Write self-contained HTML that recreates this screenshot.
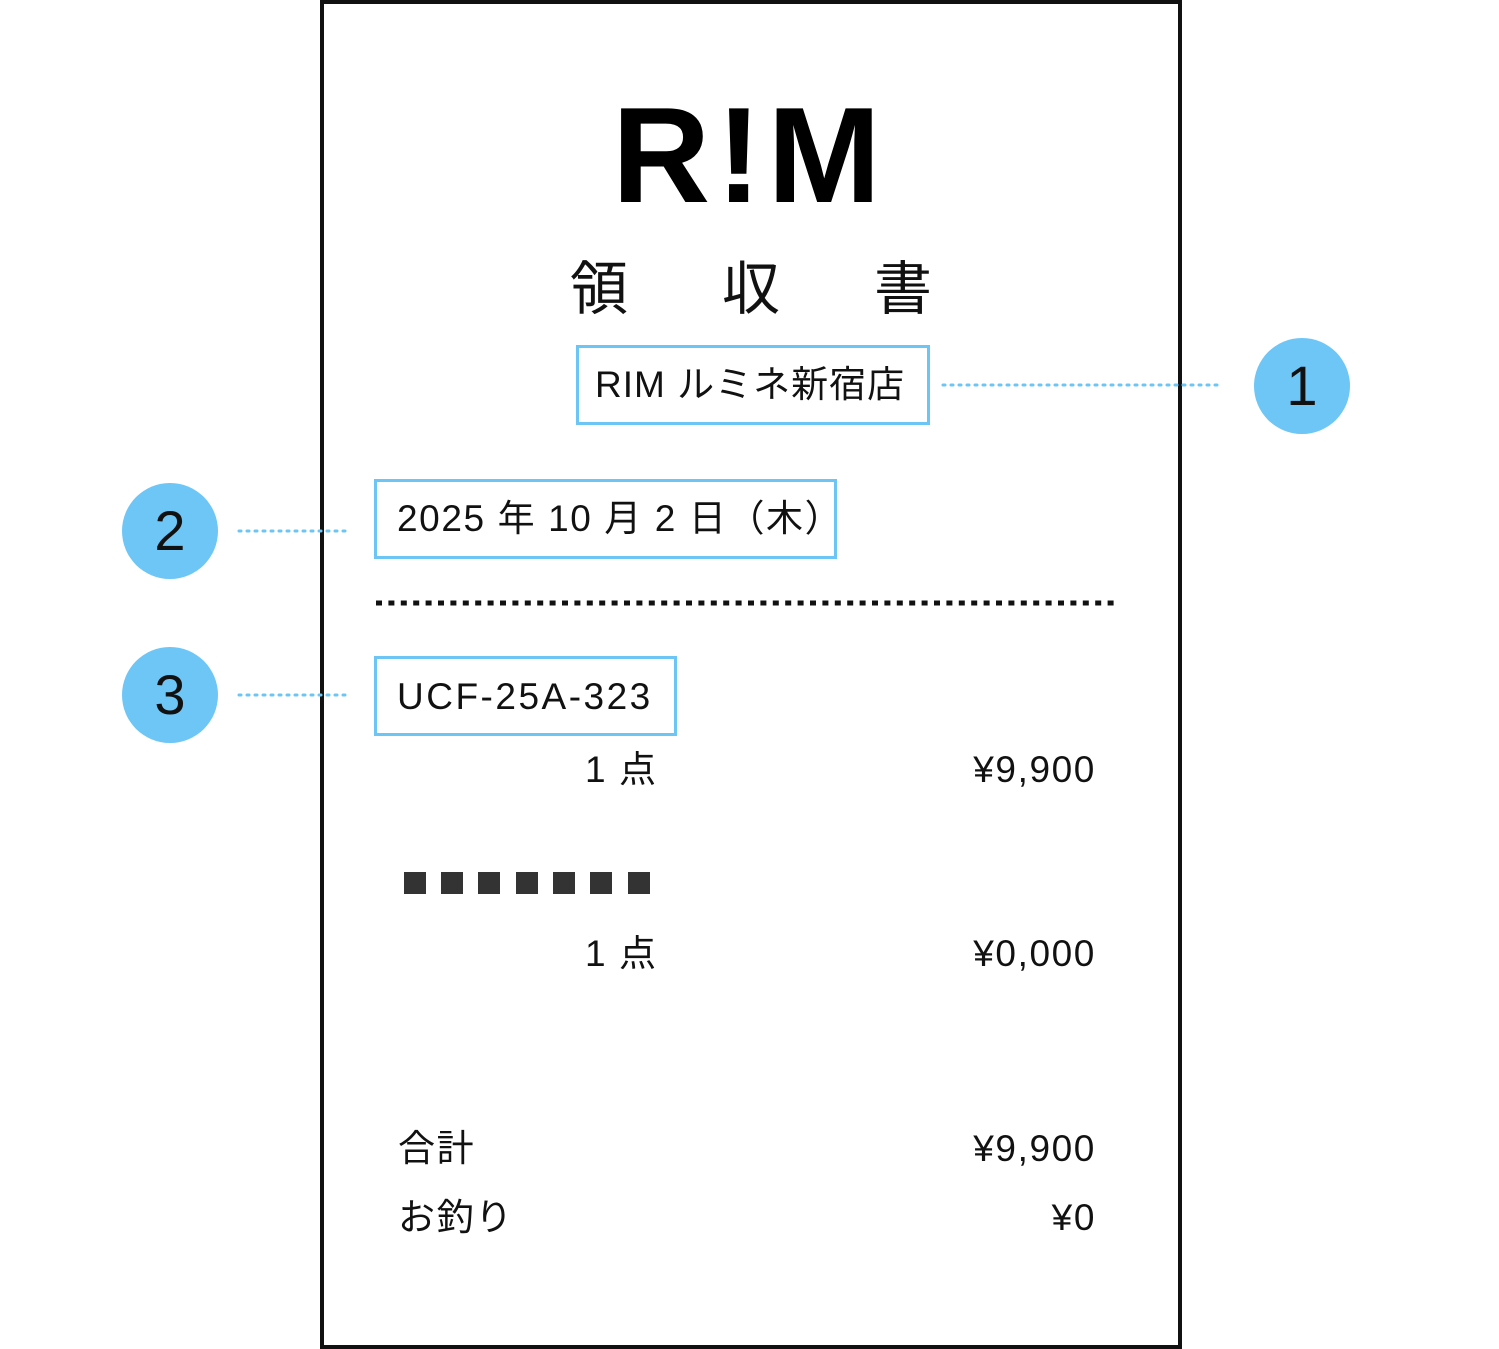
<!DOCTYPE html>
<html><head><meta charset="utf-8"><style>
body{margin:0;width:1499px;height:1349px;background:#fff;position:relative;overflow:hidden;font-family:"Liberation Sans","Noto Sans CJK JP",sans-serif;color:#111}
.a{position:absolute;white-space:nowrap}
.box{position:absolute;border:3px solid #6cc5f5;box-sizing:border-box}
.t{position:absolute;font-size:37px;line-height:40px;letter-spacing:1.6px;white-space:nowrap}
.r{position:absolute;right:403px;font-size:37px;line-height:40px;letter-spacing:1.6px;white-space:nowrap}
.c{position:absolute;width:96px;height:96px;border-radius:50%;background:#6ec6f6;font-size:56px;line-height:96px;text-align:center;color:#111}
.sq{position:absolute;top:872px;width:22px;height:22px;background:#333}
</style></head><body>
<div class="a" style="left:320px;top:0;width:862px;height:1349px;border:4px solid #111;box-sizing:border-box"></div>
<div class="a" style="left:612px;top:80px;font-size:136px;font-weight:bold;line-height:150px;letter-spacing:6px;color:#000">R!M</div>
<div class="a" style="left:570px;top:258px;font-size:58px;line-height:64px">領</div>
<div class="a" style="left:722px;top:258px;font-size:58px;line-height:64px">収</div>
<div class="a" style="left:874px;top:258px;font-size:58px;line-height:64px">書</div>
<div class="box" style="left:576px;top:345px;width:354px;height:80px"></div>
<div class="t" style="left:595px;top:365px;letter-spacing:1px">RIM ルミネ新宿店</div>
<div class="box" style="left:374px;top:479px;width:463px;height:80px"></div>
<div class="t" style="left:397px;top:499px">2025 年 10 月 2 日（木）</div>
<div class="box" style="left:374px;top:656px;width:303px;height:80px"></div>
<div class="t" style="left:397px;top:677px;letter-spacing:2.5px">UCF-25A-323</div>
<svg class="a" style="left:0;top:0" width="1499" height="1349">
<line x1="376" y1="603" x2="1120" y2="603" stroke="#111" stroke-width="5" stroke-dasharray="6 6.4"/>
<g stroke="#6cc5f5" stroke-width="3" stroke-dasharray="2 6" stroke-linecap="round">
<line x1="943" y1="385" x2="1222" y2="385"/>
<line x1="239" y1="531" x2="350" y2="531"/>
<line x1="239" y1="695" x2="350" y2="695"/>
</g></svg>
<div class="c" style="left:1254px;top:338px">1</div>
<div class="c" style="left:122px;top:483px">2</div>
<div class="c" style="left:122px;top:647px">3</div>
<div class="t" style="left:585px;top:750px">1 点</div>
<div class="r" style="top:750px">¥9,900</div>
<div class="sq" style="left:404px"></div><div class="sq" style="left:441px"></div><div class="sq" style="left:478px"></div><div class="sq" style="left:516px"></div><div class="sq" style="left:553px"></div><div class="sq" style="left:590px"></div><div class="sq" style="left:628px"></div>
<div class="t" style="left:585px;top:934px">1 点</div>
<div class="r" style="top:934px">¥0,000</div>
<div class="t" style="left:398px;top:1129px">合計</div>
<div class="r" style="top:1129px">¥9,900</div>
<div class="t" style="left:398px;top:1198px">お釣り</div>
<div class="r" style="top:1198px">¥0</div>
</body></html>
